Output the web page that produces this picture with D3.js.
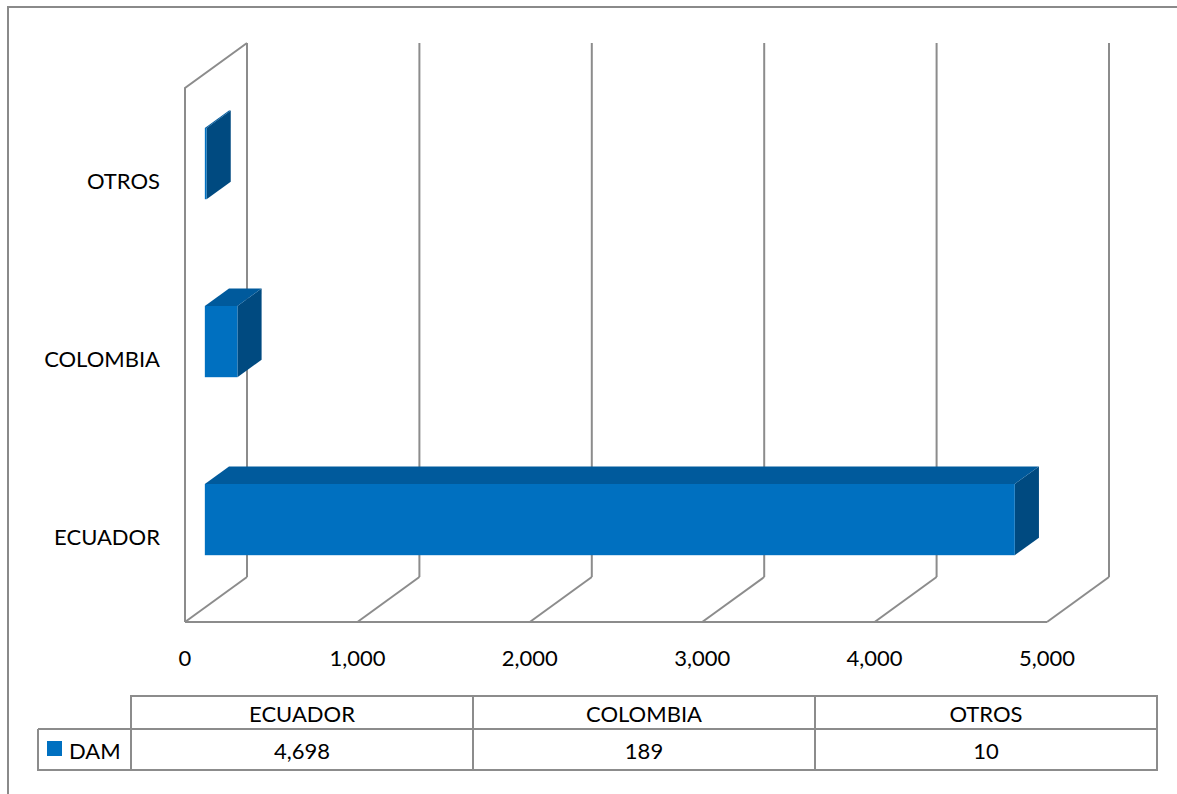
<!DOCTYPE html>
<html><head><meta charset="utf-8">
<script src="https://cdn.jsdelivr.net/npm/d3@7"></script>
<style>
html,body{margin:0;padding:0;background:#fff;}
svg{display:block;}
text{font-family:Lato,"Open Sans",sans-serif;fill:#000;}
</style></head>
<body>
<svg id="chart" width="1177" height="794"></svg>
<script>
// ---- data ----
const categories = ["ECUADOR", "COLOMBIA", "OTROS"];
const seriesName = "DAM";
const values = [4698, 189, 10];
const valueLabels = ["4,698", "189", "10"];
const xTicks = [0, 1000, 2000, 3000, 4000, 5000];

// ---- setup ----
const svg = d3.select("#chart");
const W = 1177, H = 794;
const DX = 62, DY = 45;          // depth projection offsets
const Z0 = 0.32, Z1 = 0.71;      // bar depth range
const grid = "#8c8c8c";
const fontSize = 22;

const x = d3.scaleLinear().domain([0, 5000]).range([185, 1047]);
const y = d3.scaleBand().domain(categories.slice().reverse()).range([89, 623])
  .paddingInner(0.6).paddingOuter(0.3);
const yTop = 88, yBot = 622;
const px = (v, z) => x(v) + z * DX;
const py = (yy, z) => yy - z * DY;

// outer border
svg.append("path").attr("d", `M8,${H} L8,7 L${W},7`)
  .attr("fill", "none").attr("stroke", "#8a8a8a").attr("stroke-width", 2);

const g = svg.append("g");

// left wall
g.append("path")
  .attr("d", `M${px(0,0)},${yBot} L${px(0,0)},${yTop} L${px(0,1)},${py(yTop,1)}`)
  .attr("fill", "none").attr("stroke", grid).attr("stroke-width", 2);
// floor front edge
g.append("line").attr("x1", px(0,0)).attr("x2", px(5000,0))
  .attr("y1", yBot).attr("y2", yBot).attr("stroke", grid).attr("stroke-width", 2);
// back wall verticals + floor diagonals
xTicks.forEach(t => {
  g.append("line").attr("x1", px(t,1)).attr("x2", px(t,1))
    .attr("y1", py(yTop,1)).attr("y2", py(yBot,1))
    .attr("stroke", grid).attr("stroke-width", 2);
  g.append("line").attr("x1", px(t,0)).attr("x2", px(t,1))
    .attr("y1", yBot).attr("y2", py(yBot,1))
    .attr("stroke", grid).attr("stroke-width", 2);
});

// tick labels
const fmt = d3.format(",");
g.selectAll(".tick").data(xTicks).join("text")
  .attr("x", d => x(d)).attr("y", 666)
  .attr("text-anchor", "middle").attr("font-size", fontSize)
  .text(d => fmt(d));

// category labels
g.selectAll(".cat").data(categories).join("text")
  .attr("x", 160).attr("y", d => y(d) + y.bandwidth() / 2 + 2)
  .attr("text-anchor", "end").attr("dominant-baseline", "central")
  .attr("font-size", fontSize)
  .text(d => d);

// bars
const cFront = "#0070C0", cTop = "#005A9C", cSide = "#004A80";
categories.forEach((c, i) => {
  const v = values[i];
  const top = y(c), bot = y(c) + y.bandwidth();
  const bg = g.append("g");
  // side
  bg.append("polygon").attr("points", [
    [px(v,Z0), py(top,Z0)], [px(v,Z1), py(top,Z1)],
    [px(v,Z1), py(bot,Z1)], [px(v,Z0), py(bot,Z0)]
  ].map(p => p.join(",")).join(" ")).attr("fill", cSide);
  // top
  bg.append("polygon").attr("points", [
    [px(0,Z0), py(top,Z0)], [px(v,Z0), py(top,Z0)],
    [px(v,Z1), py(top,Z1)], [px(0,Z1), py(top,Z1)]
  ].map(p => p.join(",")).join(" ")).attr("fill", cTop);
  // front
  bg.append("rect").attr("x", px(0,Z0)).attr("y", py(top,Z0))
    .attr("width", Math.max(px(v,Z0) - px(0,Z0), 1.5))
    .attr("height", bot - top).attr("fill", cFront);
});

// data table
const col = d3.scaleBand().domain(categories).range([131, 1157]);
const tHead = 696, tMid = 729, tBot = 770, tLeft = 38;
const tg = svg.append("g");
tg.append("path")
  .attr("d", `M${tLeft},${tMid} L${tLeft},${tBot} L1157,${tBot} L1157,${tHead} L131,${tHead} L131,${tBot} M${tLeft},${tMid} L1157,${tMid}`)
  .attr("fill", "none").attr("stroke", grid).attr("stroke-width", 2);
categories.slice(1).forEach(c => {
  tg.append("line").attr("x1", col(c)).attr("x2", col(c))
    .attr("y1", tHead).attr("y2", tBot).attr("stroke", grid).attr("stroke-width", 2);
});
tg.selectAll(".hd").data(categories).join("text")
  .attr("x", d => col(d) + col.bandwidth() / 2).attr("y", 713)
  .attr("text-anchor", "middle").attr("dominant-baseline", "central")
  .attr("font-size", fontSize).text(d => d);
tg.selectAll(".vl").data(categories).join("text")
  .attr("x", d => col(d) + col.bandwidth() / 2).attr("y", 750)
  .attr("text-anchor", "middle").attr("dominant-baseline", "central")
  .attr("font-size", fontSize).text((d, i) => valueLabels[i]);
tg.append("rect").attr("x", 47).attr("y", 741).attr("width", 15).attr("height", 15).attr("fill", cFront);
tg.append("text").attr("x", 69).attr("y", 750).attr("dominant-baseline", "central")
  .attr("font-size", fontSize).text(seriesName);
</script>
</body></html>
